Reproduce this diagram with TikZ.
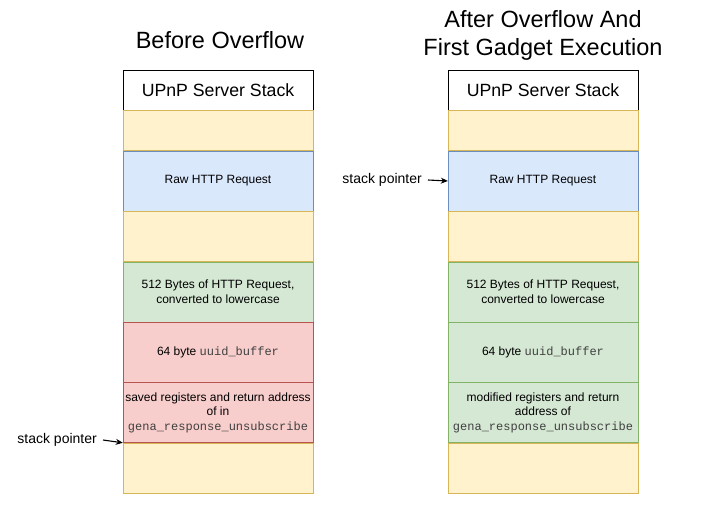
\documentclass[tikz,border=0pt]{standalone}
\usepackage{fontspec}
\setmainfont{Liberation Sans}
\setmonofont{Liberation Mono}
\usetikzlibrary{arrows.meta,positioning}

\definecolor{yelfill}{HTML}{FFF2CC}
\definecolor{yelline}{HTML}{D6B656}
\definecolor{bluefill}{HTML}{DAE8FC}
\definecolor{blueline}{HTML}{6C8EBF}
\definecolor{grnfill}{HTML}{D5E8D4}
\definecolor{grnline}{HTML}{82B366}
\definecolor{redfill}{HTML}{F8CECC}
\definecolor{redline}{HTML}{B85450}

\newcommand{\code}[1]{{\color{black!75}\texttt{#1}}}

\begin{document}
\begin{tikzpicture}[
    x=1pt, y=-1pt,
    node distance=0pt,
    cell/.style={draw, align=center, minimum width=190pt, inner sep=1pt, font=\fontsize{12}{14.5}\selectfont},
    header/.style={cell, draw=black, fill=white, minimum height=40pt, font=\fontsize{17.7}{21}\selectfont},
    free/.style={cell, draw=yelline, fill=yelfill},
    raw/.style={cell, draw=blueline, fill=bluefill, minimum height=60pt},
    ok/.style={cell, draw=grnline, fill=grnfill, minimum height=60pt},
    bad/.style={cell, draw=redline, fill=redfill, minimum height=60pt},
    title/.style={align=center, font=\fontsize{23.5}{28}\selectfont},
    note/.style={font=\fontsize{14}{16}\selectfont, anchor=east, inner sep=0pt},
    link/.style={-{Stealth[length=7pt, width=6pt]}, line width=1.1pt}
]
\useasboundingbox (0,0) rectangle (702,513);

% stack before the overflow
\node[title] (titleL) at (220,40) {Before Overflow};
\node[header, anchor=north] (hdrL) at (218,70) {UPnP Server Stack};
\node[free, minimum height=40pt, below=of hdrL] (topL) {};
\node[raw, below=of topL] (rawL) {Raw HTTP Request};
\node[free, minimum height=50pt, below=of rawL] (midL) {};
\node[ok, below=of midL] (reqL) {512 Bytes of HTTP Request,\\converted to lowercase};
\node[bad, below=of reqL] (bufL) {64 byte \code{uuid\_buffer}};
\node[bad, below=of bufL] (regL) {saved registers and return address\\of in\\\code{gena\_response\_unsubscribe}};
\node[free, minimum height=50pt, below=of regL] (botL) {};
\node[note] (spL) at (97,440) {stack pointer};
\draw[link] ([xshift=6pt]spL.east) -- (regL.south west);

% stack after the overflow
\node[title] (titleR) at (543,35) {After Overflow And\\First Gadget Execution};
\node[header, anchor=north] (hdrR) at (543,70) {UPnP Server Stack};
\node[free, minimum height=40pt, below=of hdrR] (topR) {};
\node[raw, below=of topR] (rawR) {Raw HTTP Request};
\node[free, minimum height=50pt, below=of rawR] (midR) {};
\node[ok, below=of midR] (reqR) {512 Bytes of HTTP Request,\\converted to lowercase};
\node[ok, below=of reqR] (bufR) {64 byte \code{uuid\_buffer}};
\node[ok, below=of bufR] (regR) {modified registers and return\\address of\\\code{gena\_response\_unsubscribe}};
\node[free, minimum height=50pt, below=of regR] (botR) {};
\node[note] (spR) at (422,180) {stack pointer};
\draw[link] ([xshift=6pt]spR.east) -- (rawR.west);
\end{tikzpicture}
\end{document}
